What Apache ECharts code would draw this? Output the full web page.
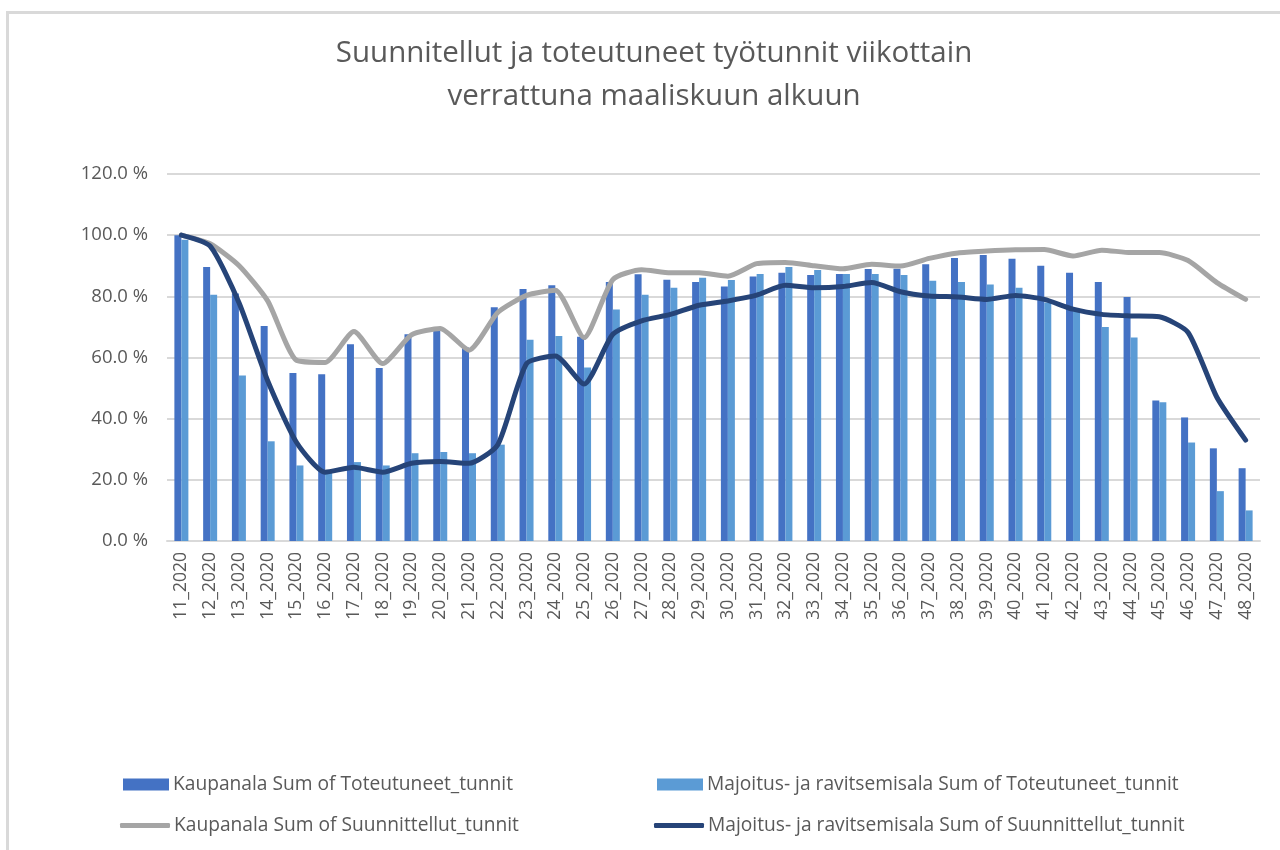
<!DOCTYPE html>
<html>
<head>
<meta charset="utf-8">
<script src="https://cdn.jsdelivr.net/npm/echarts@6/dist/echarts.min.js"></script>
<style>
  html, body { margin: 0; padding: 0; background: #fff; }
  #frame { position: absolute; left: 6px; top: 11px; width: 1300px; height: 900px; border: 3px solid #d9d9d9; box-sizing: border-box; }
  #chart { position: absolute; left: 0; top: 0; width: 1280px; height: 850px; }
</style>
</head>
<body>
<div id="frame"></div>
<div id="chart"></div>
<script>
const categories = ['11_2020','12_2020','13_2020','14_2020','15_2020','16_2020','17_2020','18_2020','19_2020','20_2020',
  '21_2020','22_2020','23_2020','24_2020','25_2020','26_2020','27_2020','28_2020','29_2020','30_2020',
  '31_2020','32_2020','33_2020','34_2020','35_2020','36_2020','37_2020','38_2020','39_2020','40_2020',
  '41_2020','42_2020','43_2020','44_2020','45_2020','46_2020','47_2020','48_2020'];

const kaupToteutuneet = [100, 89.6, 80.9, 70.3, 54.9, 54.5, 64.3, 56.6, 67.6, 70.0,
  63.3, 76.4, 82.4, 83.6, 66.8, 84.7, 87.2, 85.4, 84.7, 83.2,
  86.5, 87.7, 87.0, 87.3, 88.9, 89.0, 90.5, 92.5, 93.5, 92.3,
  90.0, 87.7, 84.7, 79.8, 45.9, 40.4, 30.3, 23.8];

const majToteutuneet = [98.5, 80.5, 54.1, 32.6, 24.7, 22.3, 25.8, 24.7, 28.7, 29.1,
  28.7, 31.5, 65.8, 67.0, 56.7, 75.7, 80.5, 82.8, 86.1, 85.3,
  87.3, 89.6, 88.6, 87.3, 87.3, 87.0, 85.1, 84.7, 83.9, 82.8,
  78.0, 75.2, 70.0, 66.5, 45.4, 32.2, 16.3, 10.0];

const kaupSuunnittellut = [100, 97.2, 90.1, 78.5, 59.1, 58.4, 68.5, 58.0, 67.4, 69.5,
  62.4, 74.7, 80.3, 82.0, 66.5, 85.5, 88.7, 87.7, 87.7, 86.6,
  90.7, 91.1, 90.0, 89.0, 90.5, 89.9, 92.4, 94.2, 94.8, 95.2,
  95.3, 93.2, 95.1, 94.3, 94.3, 91.7, 84.5, 79.0];

const majSuunnittellut = [100, 96.4, 78.0, 52.4, 32.3, 22.5, 24.1, 22.5, 25.4, 26.0,
  25.4, 31.5, 58.0, 60.5, 51.3, 67.6, 72.0, 74.1, 77.1, 78.5,
  80.4, 83.6, 82.8, 83.2, 84.5, 81.5, 80.1, 79.8, 79.0, 80.3,
  79.0, 75.8, 74.1, 73.6, 73.3, 68.2, 47.0, 33.0];

const seriesNames = [
  'Kaupanala Sum of Toteutuneet_tunnit',
  'Majoitus- ja ravitsemisala Sum of Toteutuneet_tunnit',
  'Kaupanala Sum of Suunnittellut_tunnit',
  'Majoitus- ja ravitsemisala Sum of Suunnittellut_tunnit'
];

const FONT = 'Open Sans';
const TXT = '#595959';

const chart = echarts.init(document.getElementById('chart'), null, { renderer: 'canvas' });

const legendBase = {
  orient: 'horizontal',
  textStyle: { fontFamily: FONT, fontSize: 19.2, color: TXT, padding: [0, 0, 0, -1] },
  selectedMode: false
};

chart.setOption({
  backgroundColor: 'transparent',
  animation: false,
  title: {
    text: 'Suunnitellut ja toteutuneet työtunnit viikottain\nverrattuna maaliskuun alkuun',
    left: 649,
    textAlign: 'center',
    top: 27,
    textStyle: { fontFamily: FONT, fontSize: 29.5, fontWeight: 'normal', color: TXT, lineHeight: 43 }
  },
  legend: [
    Object.assign({}, legendBase, { data: [{ name: seriesNames[0], icon: 'rect' }], left: 118, top: 770, itemWidth: 46, itemHeight: 12 }),
    Object.assign({}, legendBase, { data: [{ name: seriesNames[1], icon: 'rect' }], left: 652, top: 770, itemWidth: 46, itemHeight: 12 }),
    Object.assign({}, legendBase, { data: [{ name: seriesNames[2], icon: 'roundRect' }], left: 115, top: 811, itemWidth: 50, itemHeight: 5 }),
    Object.assign({}, legendBase, { data: [{ name: seriesNames[3], icon: 'roundRect' }], left: 649, top: 811, itemWidth: 50, itemHeight: 5 })
  ],
  grid: { left: 167, right: 20, top: 174, bottom: 309, containLabel: false },
  xAxis: {
    type: 'category',
    data: categories,
    axisLine: { lineStyle: { color: '#d9d9d9', width: 2 } },
    axisTick: { show: false },
    axisLabel: { rotate: 90, interval: 0, margin: 11, fontFamily: FONT, fontSize: 17.5, color: TXT }
  },
  yAxis: {
    type: 'value',
    min: 0,
    max: 120,
    interval: 20,
    axisLine: { show: false },
    axisTick: { show: false },
    splitLine: { lineStyle: { color: '#d9d9d9', width: 2 } },
    axisLabel: {
      margin: 19,
      fontFamily: FONT, fontSize: 18.5, color: TXT,
      formatter: v => v.toFixed(1) + ' %'
    }
  },
  series: [
    { name: seriesNames[0], type: 'bar', data: kaupToteutuneet, barWidth: 7, barGap: '0%', itemStyle: { color: '#4472C4' }, z: 2 },
    { name: seriesNames[1], type: 'bar', data: majToteutuneet, barWidth: 7, barGap: '0%', itemStyle: { color: '#5B9BD5' }, z: 2 },
    { name: seriesNames[2], type: 'line', data: kaupSuunnittellut, smooth: 0.2, symbol: 'none',
      lineStyle: { color: '#A5A5A5', width: 5, cap: 'round', join: 'round' }, itemStyle: { color: '#A5A5A5' }, z: 3 },
    { name: seriesNames[3], type: 'line', data: majSuunnittellut, smooth: 0.2, symbol: 'none',
      lineStyle: { color: '#264478', width: 5, cap: 'round', join: 'round' }, itemStyle: { color: '#264478' }, z: 4 }
  ]
});
</script>
</body>
</html>
